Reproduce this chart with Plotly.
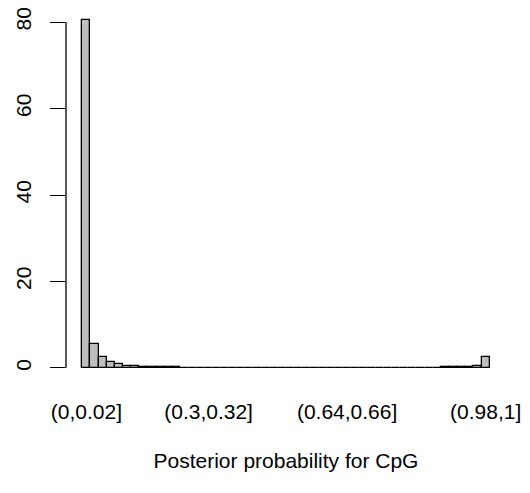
import plotly.graph_objects as go

# bin labels (0,0.02] ... (0.98,1]
def fmt(v):
    s = ("%.2f" % v).rstrip("0").rstrip(".")
    return s
bins = ["(%s,%s]" % (fmt(i * 0.02), fmt((i + 1) * 0.02)) for i in range(50)]

counts = [80.5, 5.5, 2.5, 1.45, 0.85, 0.5, 0.35, 0.25, 0.2, 0.16,
          0.14, 0.12, 0.11, 0.1, 0.1, 0.09, 0.09, 0.08, 0.08, 0.08,
          0.07, 0.07, 0.07, 0.07, 0.07, 0.07, 0.07, 0.07, 0.07, 0.07,
          0.07, 0.07, 0.07, 0.07, 0.07, 0.08, 0.08, 0.08, 0.08, 0.09,
          0.09, 0.1, 0.1, 0.11, 0.12, 0.14, 0.18, 0.3, 0.5, 2.5]

shown_ticks = ["(0,0.02]", "(0.3,0.32]", "(0.64,0.66]", "(0.98,1]"]
y_ticks = [0, 20, 40, 60, 80]
x_title = "Posterior probability for CpG"

font = "Liberation Sans, Arial, sans-serif"
fs = 21

fig = go.Figure(go.Bar(
    x=bins, y=counts,
    marker=dict(color="#BEBEBE", line=dict(color="black", width=1.3)),
))

# page body has an 8px default margin, so the figure is shrunk and shifted
fig.update_layout(
    width=522, height=485,
    margin=dict(l=58, r=24, t=0, b=111),
    paper_bgcolor="white", plot_bgcolor="white",
    bargap=0, showlegend=False,
    font=dict(family=font, size=fs, color="black"),
)
fig.update_xaxes(
    type="category", categoryorder="array", categoryarray=bins,
    range=[-2.5, 51.5], automargin=False,
    tickmode="array", tickvals=shown_ticks, ticktext=shown_ticks,
    ticks="outside", ticklen=11, tickcolor="rgba(0,0,0,0)",
    showline=False, showgrid=False, zeroline=False,
    title=dict(text=x_title, standoff=31, font=dict(size=fs)),
    tickfont=dict(size=fs), ticklabeloverflow="allow",
)
fig.update_yaxes(
    range=[-3.24, 83.24], automargin=False,
    tickmode="array", tickvals=y_ticks, ticktext=[str(v) for v in y_ticks],
    ticks="outside", ticklen=15, tickwidth=1.3, tickcolor="black",
    tickangle=-90, tickfont=dict(size=fs), ticklabelstandoff=11,
    ticklabeloverflow="allow",
    showline=False, showgrid=False, zeroline=False,
)
fig.add_shape(type="line", xref="paper", yref="y", x0=0, x1=0,
              y0=y_ticks[0], y1=y_ticks[-1],
              line=dict(color="black", width=1.3))

fig.write_html("out.html")
